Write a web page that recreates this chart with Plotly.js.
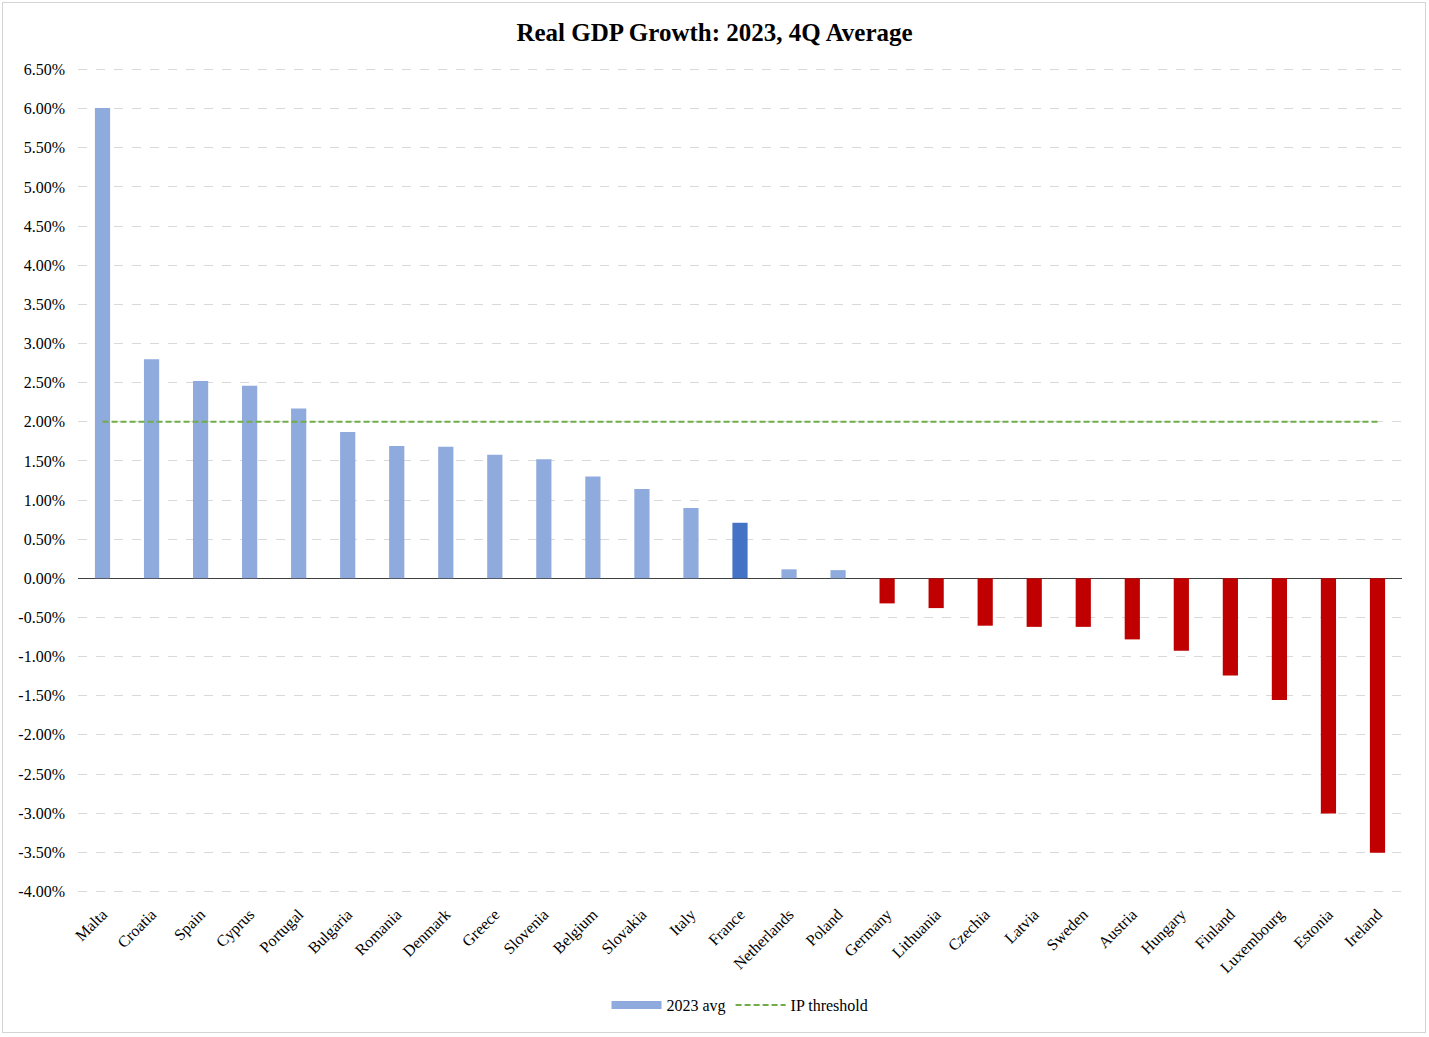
<!DOCTYPE html>
<html>
<head>
<meta charset="utf-8">
<script src="https://cdn.plot.ly/plotly-3.0.1.min.js"></script>
<style>
  html, body { margin: 0; padding: 0; background: #ffffff; }
  #wrap { position: relative; width: 1429px; height: 1037px; }
  #chart { position: absolute; left: 0; top: 0; width: 1429px; height: 1037px; }
  #frame { position: absolute; left: 2px; top: 2px; width: 1422px; height: 1029px; border: 1px solid #d4d4d4; pointer-events: none; }
</style>
</head>
<body>
<div id="wrap">
  <div id="chart"></div>
  <div id="frame"></div>
</div>
<script>
const countries = ["Malta","Croatia","Spain","Cyprus","Portugal","Bulgaria","Romania","Denmark","Greece","Slovenia","Belgium","Slovakia","Italy","France","Netherlands","Poland","Germany","Lithuania","Czechia","Latvia","Sweden","Austria","Hungary","Finland","Luxembourg","Estonia","Ireland"];
const growth2023 = [6.01,2.80,2.52,2.46,2.17,1.87,1.69,1.68,1.58,1.52,1.30,1.14,0.90,0.71,0.115,0.105,-0.32,-0.38,-0.605,-0.62,-0.62,-0.78,-0.925,-1.24,-1.555,-3.005,-3.505];
const ipThreshold = 2.0;
const highlight = "France";
const tickVals = [-4,-3.5,-3,-2.5,-2,-1.5,-1,-0.5,0,0.5,1,1.5,2,2.5,3,3.5,4,4.5,5,5.5,6,6.5];
const tickText = tickVals.map(v => v.toFixed(2) + "%");

const barColors = countries.map((c, i) =>
  c === highlight ? "#4472C4" : (growth2023[i] < 0 ? "#C00000" : "#8FAADC"));

const font = "Liberation Serif, Times New Roman, serif";

const traces = [
  {
    type: "bar",
    name: "2023 avg",
    x: countries,
    y: growth2023,
    marker: { color: barColors, line: { width: 0 } },
    showlegend: false,
    hoverinfo: "x+y"
  },
  {
    // legend swatch for the bar series (wide rectangle like the reference)
    type: "scatter",
    mode: "lines",
    name: "2023 avg",
    x: [countries[0]],
    y: [null],
    line: { color: "#8FAADC", width: 8 },
    hoverinfo: "skip"
  },
  {
    type: "scatter",
    mode: "lines",
    name: "IP threshold",
    x: [countries[0], countries[countries.length - 1]],
    y: [ipThreshold, ipThreshold],
    line: { color: "#70AD47", width: 2, dash: "6px,3px" }
  }
];

const layout = {
  width: 1429,
  height: 1037,
  margin: { l: 78, r: 27, t: 68, b: 144 },
  paper_bgcolor: "#ffffff",
  plot_bgcolor: "#ffffff",
  font: { family: font, size: 16, color: "#000000" },
  title: {
    text: "<b>Real GDP Growth: 2023, 4Q Average</b>",
    font: { family: font, size: 25, color: "#000000" },
    x: 0.5, xanchor: "center",
    y: 0.969, yanchor: "middle"
  },
  bargap: 0.69,
  showlegend: true,
  legend: {
    orientation: "h",
    x: 0.5, xanchor: "center",
    y: -0.136, yanchor: "middle",
    font: { family: font, size: 16, color: "#000000" },
    itemwidth: 50
  },
  xaxis: {
    type: "category",
    tickangle: -45,
    tickfont: { family: font, size: 16, color: "#000000" },
    ticklabelstandoff: 8,
    showgrid: false,
    showline: false,
    ticks: "",
    zeroline: false
  },
  yaxis: {
    range: [-4.02, 6.52],
    tickvals: tickVals,
    ticktext: tickText,
    tickfont: { family: font, size: 16, color: "#000000" },
    ticklabelstandoff: 12,
    showgrid: true,
    gridcolor: "#d9d9d9",
    griddash: "dash",
    gridwidth: 1,
    zeroline: true,
    zerolinecolor: "#404040",
    zerolinewidth: 1.5,
    showline: false,
    ticks: "",
    ticklen: 0
  }
};

Plotly.newPlot("chart", traces, layout, { displayModeBar: false, staticPlot: true });
</script>
</body>
</html>
